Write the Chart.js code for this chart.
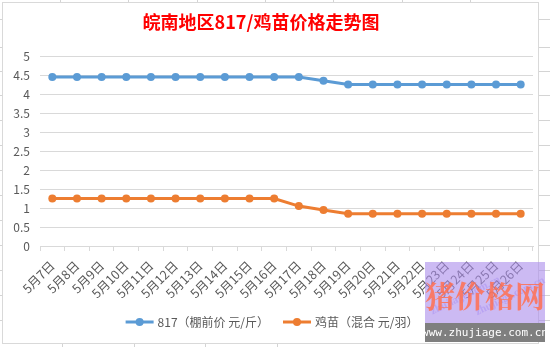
<!DOCTYPE html>
<html lang="zh-CN">
<head>
    <meta charset="UTF-8">
    <title>皖南地区817/鸡苗价格走势图</title>
    <script src="https://cdn.jsdelivr.net/npm/chart.js"></script>
    <style>
        body {
            margin: 0;
            background: #fff;
        }
        #priceChart {
            display: block;
        }
    </style>
</head>
<body>
    <canvas id="priceChart" width="550" height="347"></canvas>

    <script>
        // 日期与价格
        const dates = ['5月7日', '5月8日', '5月9日', '5月10日', '5月11日', '5月12日', '5月13日',
            '5月14日', '5月15日', '5月16日', '5月17日', '5月18日', '5月19日', '5月20日',
            '5月21日', '5月22日', '5月23日', '5月24日', '5月25日', '5月26日'];
        const price817 = [4.45, 4.45, 4.45, 4.45, 4.45, 4.45, 4.45, 4.45, 4.45, 4.45,
            4.45, 4.35, 4.25, 4.25, 4.25, 4.25, 4.25, 4.25, 4.25, 4.25];
        const chickPrice = [1.25, 1.25, 1.25, 1.25, 1.25, 1.25, 1.25, 1.25, 1.25, 1.25,
            1.05, 0.95, 0.85, 0.85, 0.85, 0.85, 0.85, 0.85, 0.85, 0.85];
        const seriesNames = ['817（棚前价 元/斤）', '鸡苗（混合 元/羽）'];
        const titleText = '皖南地区817/鸡苗价格走势图';

        const FONT = '"Noto Sans CJK SC", "Microsoft YaHei", sans-serif';
        const BLUE = '#5B9BD5';
        const ORANGE = '#ED7D31';

        // 外框、标题、图例和水印
        const decor = {
            id: 'decor',
            beforeDraw(chart) {
                const c = chart.ctx;
                c.save();
                c.fillStyle = '#fff';
                c.fillRect(0, 0, chart.width, chart.height);
                // 表格网格线的残余部分
                c.strokeStyle = '#d4d4d4';
                c.lineWidth = 1;
                c.beginPath();
                [60, 128, 197, 265, 333, 402, 470].forEach(x => {
                    c.moveTo(x + 0.5, 0); c.lineTo(x + 0.5, 3);
                });
                [19, 47, 71, 95, 120, 145, 170, 195, 220, 245, 270, 295, 320].forEach(y => {
                    c.moveTo(539, y + 0.5); c.lineTo(550, y + 0.5);
                    c.moveTo(0, y + 0.5); c.lineTo(2, y + 0.5);
                });
                [62, 134, 205, 277].forEach(x => {
                    c.moveTo(x + 0.5, 344); c.lineTo(x + 0.5, 347);
                });
                c.stroke();
                c.strokeStyle = '#d9d9d9';
                c.strokeRect(2.5, 2.5, 536, 341);
                c.restore();
            },
            afterDraw(chart) {
                const c = chart.ctx;
                c.save();
                // 标题
                c.fillStyle = '#ff0000';
                c.font = 'bold 18px ' + FONT;
                c.textAlign = 'center';
                c.textBaseline = 'middle';
                c.fillText(titleText, 261, 22);

                // 图例
                c.font = '12px ' + FONT;
                c.textAlign = 'left';
                const colors = [BLUE, ORANGE];
                const gap = 14;
                const sample = 28;
                const widths = seriesNames.map(n => c.measureText(n).width);
                const total = widths.reduce((a, w) => a + sample + 4 + w, 0) + gap;
                let x = 272 - total / 2;
                const y = 322;
                seriesNames.forEach((name, i) => {
                    c.strokeStyle = colors[i];
                    c.lineWidth = 3;
                    c.beginPath();
                    c.moveTo(x, y); c.lineTo(x + sample, y);
                    c.stroke();
                    c.fillStyle = colors[i];
                    c.beginPath();
                    c.arc(x + sample / 2, y, 4, 0, Math.PI * 2);
                    c.fill();
                    c.fillStyle = '#595959';
                    c.fillText(name, x + sample + 4, y);
                    x += sample + 4 + widths[i] + gap;
                });

                // 网站水印
                c.fillStyle = 'rgba(170, 140, 235, 0.6)';
                c.fillRect(425, 262, 120, 61);
                c.fillStyle = '#7f7f7f';
                c.fillRect(425, 323, 120, 19);
                c.fillStyle = 'rgba(150, 120, 240, 0.35)';
                c.font = 'bold 11px serif';
                c.save();
                c.translate(440, 330);
                c.rotate(-Math.PI / 7);
                c.fillText('zhujiage.com.cn', 0, -20);
                c.fillText('zhujiage.com.cn', 40, 0);
                c.restore();
                c.fillStyle = 'rgba(255, 110, 80, 0.85)';
                c.font = 'bold 30px "Noto Serif CJK SC", "Noto Sans CJK SC", serif';
                c.textAlign = 'center';
                c.fillText('猪价格网', 485, 296);
                c.fillStyle = '#fff';
                c.font = '11px "DejaVu Sans Mono", monospace';
                c.fillText('www.zhujiage.com.cn', 485, 333);
                c.restore();
            }
        };

        const ctx = document.getElementById('priceChart').getContext('2d');
        new Chart(ctx, {
            type: 'line',
            data: {
                labels: dates,
                datasets: [{
                    label: seriesNames[0],
                    data: price817,
                    borderColor: BLUE,
                    backgroundColor: BLUE,
                    borderWidth: 3,
                    pointRadius: 4,
                    pointBackgroundColor: BLUE,
                    pointBorderWidth: 0,
                    tension: 0
                }, {
                    label: seriesNames[1],
                    data: chickPrice,
                    borderColor: ORANGE,
                    backgroundColor: ORANGE,
                    borderWidth: 3,
                    pointRadius: 4,
                    pointBackgroundColor: ORANGE,
                    pointBorderWidth: 0,
                    tension: 0
                }]
            },
            options: {
                responsive: false,
                animation: false,
                layout: {
                    padding: { left: 3, right: 17, top: 56, bottom: 41 }
                },
                plugins: {
                    legend: { display: false },
                    title: { display: false },
                    tooltip: { enabled: false }
                },
                scales: {
                    x: {
                        offset: true,
                        grid: {
                            display: true,
                            drawOnChartArea: false,
                            offset: true,
                            tickLength: 5,
                            color: '#d9d9d9'
                        },
                        border: { color: '#d9d9d9' },
                        ticks: {
                            autoSkip: false,
                            minRotation: 45,
                            maxRotation: 45,
                            padding: 7,
                            color: '#595959',
                            font: { family: FONT, size: 12.5 }
                        },
                        afterFit(scale) { scale.height = 60; }
                    },
                    y: {
                        min: 0,
                        max: 5,
                        ticks: {
                            stepSize: 0.5,
                            padding: 10,
                            color: '#595959',
                            font: { family: FONT, size: 12 },
                            callback: v => String(Number(v.toFixed(1)))
                        },
                        grid: {
                            color: '#d9d9d9',
                            drawTicks: false
                        },
                        border: { display: false },
                        afterFit(scale) { scale.width = 37; }
                    }
                }
            },
            plugins: [decor]
        });
    </script>
</body>
</html>
